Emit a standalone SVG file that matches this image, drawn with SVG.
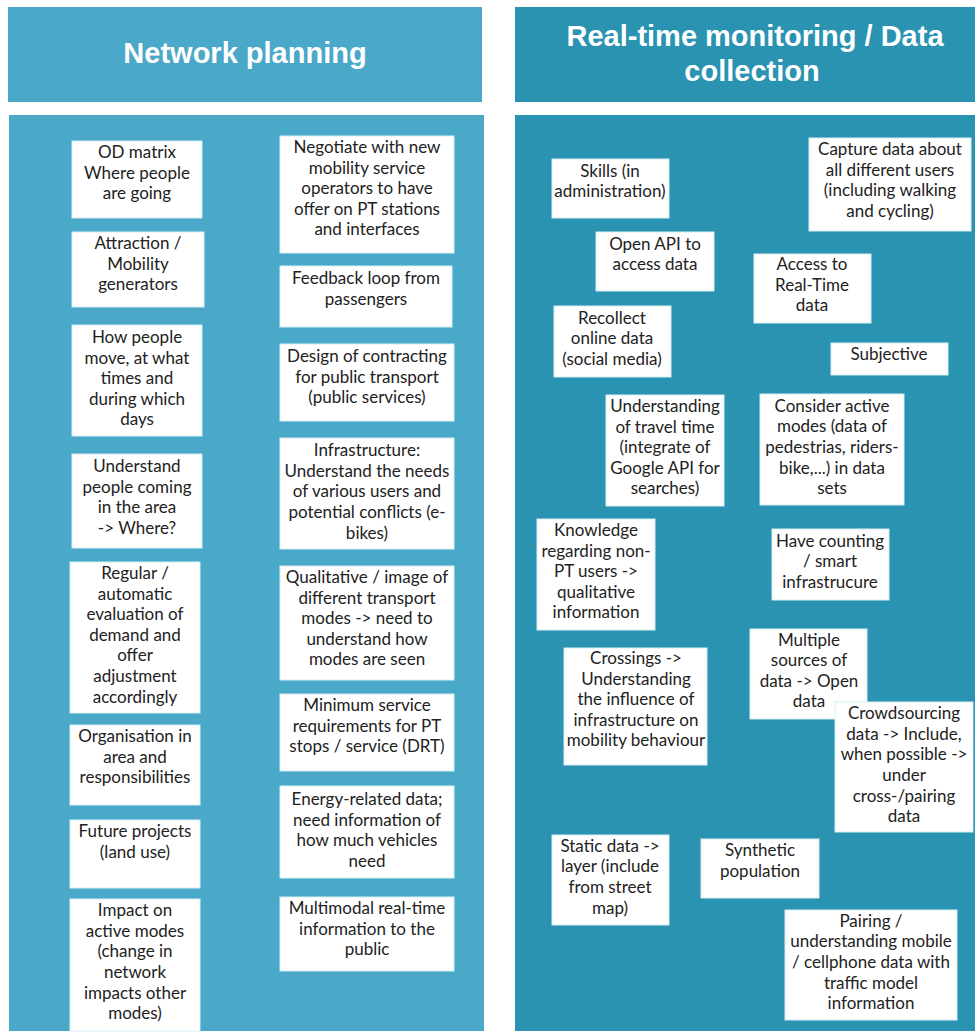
<svg xmlns="http://www.w3.org/2000/svg" width="975" height="1033" viewBox="0 0 975 1033">
<style>
.bgL{fill:#4aa8c8}
.bgR{fill:#2a93b2}
.box{fill:#ffffff;stroke:#d6edf4;stroke-width:1}
.h{font-family:"Liberation Sans",Arial,sans-serif;font-weight:bold;font-size:29px;fill:#ffffff;text-anchor:middle}
.t{font-family:Lato,"Noto Sans",sans-serif;font-size:17px;fill:#222222;text-anchor:middle}
</style>
<rect width="975" height="1033" fill="#ffffff"/>
<g id="panel-left">
<rect class="bgL" x="8" y="7" width="474" height="95"/>
<text class="h" x="245" y="63">Network planning</text>
<rect class="bgL" x="9" y="115" width="475" height="916"/>
</g>
<g id="panel-right">
<rect class="bgR" x="515" y="7" width="460" height="95"/>
<text class="h"><tspan x="755" y="46">Real-time monitoring / Data</tspan><tspan x="752" y="81">collection</tspan></text>
<rect class="bgR" x="515" y="115" width="460" height="916"/>
</g>
<g id="connectors"/>
<g id="n-od"><rect class="box" x="72" y="141" width="130" height="77"/><text class="t"><tspan x="137" y="158">OD matrix</tspan><tspan x="137" y="179">Where people</tspan><tspan x="137" y="199">are going</tspan></text></g>
<g id="n-attraction"><rect class="box" x="72" y="232" width="132" height="75"/><text class="t"><tspan x="138" y="249">Attraction /</tspan><tspan x="138" y="270">Mobility</tspan><tspan x="138" y="290">generators</tspan></text></g>
<g id="n-howmove"><rect class="box" x="72" y="325" width="130" height="111"/><text class="t"><tspan x="137" y="343">How people</tspan><tspan x="137" y="364">move, at what</tspan><tspan x="137" y="384">times and</tspan><tspan x="137" y="405">during which</tspan><tspan x="137" y="425">days</tspan></text></g>
<g id="n-understand"><rect class="box" x="72" y="454" width="130" height="94"/><text class="t"><tspan x="137" y="472">Understand</tspan><tspan x="137" y="493">people coming</tspan><tspan x="137" y="513">in the area</tspan><tspan x="137" y="534">-&gt; Where?</tspan></text></g>
<g id="n-regular"><rect class="box" x="70" y="562" width="130" height="151"/><text class="t"><tspan x="135" y="579">Regular /</tspan><tspan x="135" y="600">automatic</tspan><tspan x="135" y="620">evaluation of</tspan><tspan x="135" y="641">demand and</tspan><tspan x="135" y="661">offer</tspan><tspan x="135" y="682">adjustment</tspan><tspan x="135" y="703">accordingly</tspan></text></g>
<g id="n-organisation"><rect class="box" x="70" y="725" width="130" height="80"/><text class="t"><tspan x="135" y="742">Organisation in</tspan><tspan x="135" y="763">area and</tspan><tspan x="135" y="783">responsibilities</tspan></text></g>
<g id="n-future"><rect class="box" x="70" y="820" width="130" height="68"/><text class="t"><tspan x="135" y="837">Future projects</tspan><tspan x="135" y="858">(land use)</tspan></text></g>
<g id="n-impact"><rect class="box" x="70" y="899" width="130" height="132"/><text class="t"><tspan x="135" y="916">Impact on</tspan><tspan x="135" y="937">active modes</tspan><tspan x="135" y="957">(change in</tspan><tspan x="135" y="978">network</tspan><tspan x="135" y="999">impacts other</tspan><tspan x="135" y="1019">modes)</tspan></text></g>
<g id="n-negotiate"><rect class="box" x="280" y="136" width="174" height="117"/><text class="t"><tspan x="367" y="153">Negotiate with new</tspan><tspan x="367" y="174">mobility service</tspan><tspan x="367" y="194">operators to have</tspan><tspan x="367" y="215">offer on PT stations</tspan><tspan x="367" y="235">and interfaces</tspan></text></g>
<g id="n-feedback"><rect class="box" x="280" y="266" width="172" height="61"/><text class="t"><tspan x="366" y="284">Feedback loop from</tspan><tspan x="366" y="305">passengers</tspan></text></g>
<g id="n-design"><rect class="box" x="280" y="344" width="174" height="77"/><text class="t"><tspan x="367" y="362">Design of contracting</tspan><tspan x="367" y="383">for public transport</tspan><tspan x="367" y="403">(public services)</tspan></text></g>
<g id="n-infra"><rect class="box" x="280" y="438" width="174" height="111"/><text class="t"><tspan x="367" y="456">Infrastructure:</tspan><tspan x="367" y="477">Understand the needs</tspan><tspan x="367" y="497">of various users and</tspan><tspan x="367" y="518">potential conflicts (e-</tspan><tspan x="367" y="539">bikes)</tspan></text></g>
<g id="n-qualitative"><rect class="box" x="280" y="566" width="174" height="114"/><text class="t"><tspan x="367" y="583">Qualitative / image of</tspan><tspan x="367" y="604">different transport</tspan><tspan x="367" y="624">modes -&gt; need to</tspan><tspan x="367" y="645">understand how</tspan><tspan x="367" y="665">modes are seen</tspan></text></g>
<g id="n-minimum"><rect class="box" x="280" y="694" width="174" height="77"/><text class="t"><tspan x="367" y="711">Minimum service</tspan><tspan x="367" y="732">requirements for PT</tspan><tspan x="367" y="752">stops / service (DRT)</tspan></text></g>
<g id="n-energy"><rect class="box" x="280" y="786" width="174" height="92"/><text class="t"><tspan x="367" y="805">Energy-related data;</tspan><tspan x="367" y="826">need information of</tspan><tspan x="367" y="846">how much vehicles</tspan><tspan x="367" y="867">need</tspan></text></g>
<g id="n-multimodal"><rect class="box" x="280" y="897" width="174" height="74"/><text class="t"><tspan x="367" y="914">Multimodal real-time</tspan><tspan x="367" y="935">information to the</tspan><tspan x="367" y="955">public</tspan></text></g>
<g id="n-skills"><rect class="box" x="552" y="159" width="117" height="59"/><text class="t"><tspan x="610" y="177">Skills (in</tspan><tspan x="610" y="197">administration)</tspan></text></g>
<g id="n-capture"><rect class="box" x="809" y="138" width="162" height="93"/><text class="t"><tspan x="890" y="155">Capture data about</tspan><tspan x="890" y="176">all different users</tspan><tspan x="890" y="196">(including walking</tspan><tspan x="890" y="217">and cycling)</tspan></text></g>
<g id="n-openapi"><rect class="box" x="596" y="232" width="118" height="59"/><text class="t"><tspan x="655" y="250">Open API to</tspan><tspan x="655" y="270">access data</tspan></text></g>
<g id="n-access"><rect class="box" x="754" y="254" width="117" height="69"/><text class="t"><tspan x="812" y="270">Access to</tspan><tspan x="812" y="291">Real-Time</tspan><tspan x="812" y="311">data</tspan></text></g>
<g id="n-recollect"><rect class="box" x="554" y="306" width="117" height="71"/><text class="t"><tspan x="612" y="324">Recollect</tspan><tspan x="612" y="344">online data</tspan><tspan x="612" y="365">(social media)</tspan></text></g>
<g id="n-subjective"><rect class="box" x="831" y="343" width="117" height="32"/><text class="t"><tspan x="889" y="360">Subjective</tspan></text></g>
<g id="n-traveltime"><rect class="box" x="606" y="395" width="118" height="111"/><text class="t"><tspan x="665" y="412">Understanding</tspan><tspan x="665" y="433">of travel time</tspan><tspan x="665" y="453">(integrate of</tspan><tspan x="665" y="474">Google API for</tspan><tspan x="665" y="494">searches)</tspan></text></g>
<g id="n-consider"><rect class="box" x="760" y="394" width="144" height="111"/><text class="t"><tspan x="832" y="412">Consider active</tspan><tspan x="832" y="432">modes (data of</tspan><tspan x="832" y="453">pedestrias, riders-</tspan><tspan x="832" y="474">bike,...) in data</tspan><tspan x="832" y="494">sets</tspan></text></g>
<g id="n-knowledge"><rect class="box" x="537" y="519" width="118" height="111"/><text class="t"><tspan x="596" y="536">Knowledge</tspan><tspan x="596" y="557">regarding non-</tspan><tspan x="596" y="577">PT users -&gt;</tspan><tspan x="596" y="598">qualitative</tspan><tspan x="596" y="618">information</tspan></text></g>
<g id="n-counting"><rect class="box" x="772" y="529" width="117" height="71"/><text class="t"><tspan x="830" y="547">Have counting</tspan><tspan x="830" y="567">/ smart</tspan><tspan x="830" y="588">infrastrucure</tspan></text></g>
<g id="n-crossings"><rect class="box" x="564" y="648" width="143" height="117"/><text class="t"><tspan x="636" y="664">Crossings -&gt;</tspan><tspan x="636" y="685">Understanding</tspan><tspan x="636" y="705">the influence of</tspan><tspan x="636" y="726">infrastructure on</tspan><tspan x="636" y="746">mobility behaviour</tspan></text></g>
<g id="n-multiple"><rect class="box" x="750" y="629" width="117" height="90"/><text class="t"><tspan x="809" y="646">Multiple</tspan><tspan x="809" y="666">sources of</tspan><tspan x="809" y="687">data -&gt; Open</tspan><tspan x="809" y="707">data</tspan></text></g>
<g id="n-crowd"><rect class="box" x="835" y="702" width="138" height="130"/><text class="t"><tspan x="904" y="719">Crowdsourcing</tspan><tspan x="904" y="740">data -&gt; Include,</tspan><tspan x="904" y="760">when possible -&gt;</tspan><tspan x="904" y="781">under</tspan><tspan x="904" y="802">cross-/pairing</tspan><tspan x="904" y="822">data</tspan></text></g>
<g id="n-static"><rect class="box" x="552" y="835" width="117" height="90"/><text class="t"><tspan x="610" y="852">Static data -&gt;</tspan><tspan x="610" y="872">layer (include</tspan><tspan x="610" y="893">from street</tspan><tspan x="610" y="914">map)</tspan></text></g>
<g id="n-synthetic"><rect class="box" x="701" y="839" width="118" height="59"/><text class="t"><tspan x="760" y="856">Synthetic</tspan><tspan x="760" y="877">population</tspan></text></g>
<g id="n-pairing"><rect class="box" x="785" y="910" width="172" height="110"/><text class="t"><tspan x="871" y="927">Pairing /</tspan><tspan x="871" y="947">understanding mobile</tspan><tspan x="871" y="968">/ cellphone data with</tspan><tspan x="871" y="989">traffic model</tspan><tspan x="871" y="1009">information</tspan></text></g>
</svg>
